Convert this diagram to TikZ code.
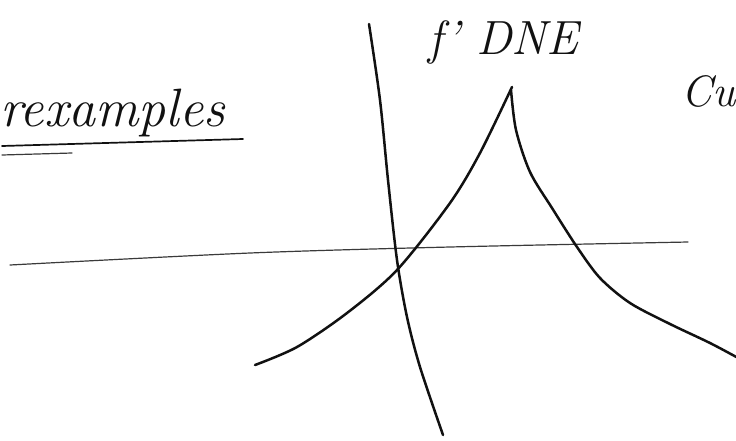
\documentclass[tikz,border=0pt]{standalone}
\usepackage{xcolor}
\usetikzlibrary{positioning}
\definecolor{InkDark}{HTML}{111111}
\definecolor{ScanGray}{HTML}{3A3A3A}

\begin{document}
\begin{tikzpicture}[
  x=1pt, y=-1pt,
  ink/.style={draw=InkDark,line width=2.5pt,line cap=round,line join=round},
  faint/.style={draw=ScanGray,line width=1.2pt,line cap=round},
  scrawl/.style={text=InkDark,inner sep=0pt,font=\itshape\fontsize{50}{50}\selectfont}
]
  \clip (0,0) rectangle (736,440);

  % heading, underlined twice
  \node[scrawl, anchor=base west, font=\itshape\fontsize{54}{54}\selectfont] (title) at (0,126) {rexamples};
  \draw[ink, line width=1.7pt] (2,146) -- (243,139);
  \draw[faint] (2,155) -- (72,153);

  % labels
  \node[scrawl, anchor=base west, font=\itshape\fontsize{48}{48}\selectfont] (dne) at (428,54) {f' DNE};
  \node[scrawl, anchor=base east, font=\itshape\fontsize{44}{44}\selectfont] (cu) at (736,106) {Cu};

  % axes
  \draw[faint] plot[smooth] coordinates {(10,265) (250,253) (450,247) (688,242)};
  \draw[ink] plot[smooth] coordinates {(369,24) (380,100) (388,180) (397,260) (407,317) (420,367) (443,435)};

  % cusp
  \draw[ink] plot[smooth] coordinates {(255,365) (297,347) (347,313) (397,270) (450,203) (480,153) (512,87)};
  \draw[ink] plot[smooth] coordinates {(511,90) (516,130) (530,172) (552,208) (577,247) (600,278) (630,303) (670,324) (710,343) (740,359)};
\end{tikzpicture}
\end{document}
